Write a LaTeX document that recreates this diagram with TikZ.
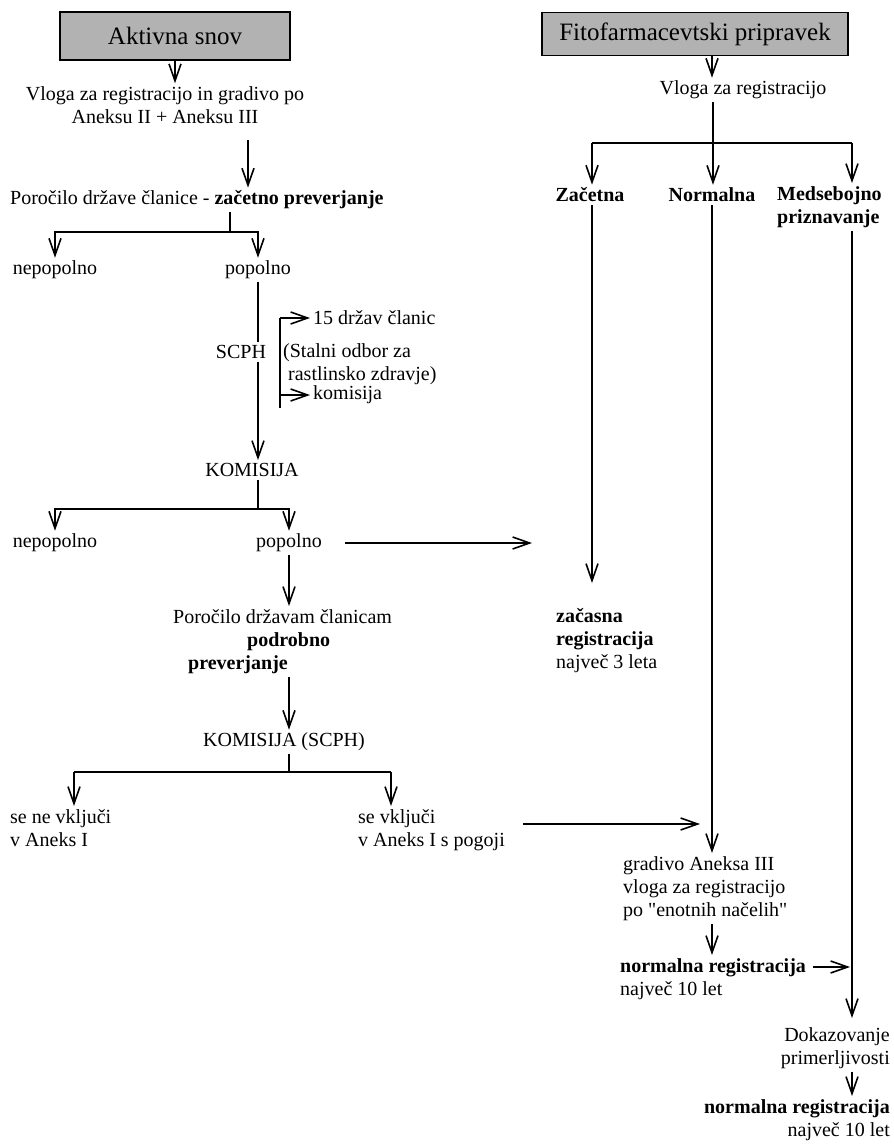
\documentclass[tikz,border=0pt]{standalone}
\usepackage{fontspec}
\setmainfont{Liberation Serif}[Ligatures=TeXOff]
\usetikzlibrary{arrows.meta}

\begin{document}
\begin{tikzpicture}[x=1pt, y=-1pt, >={Straight Barb[length=17pt,width=12pt]}, font=\fontsize{20}{23}\selectfont]

\tikzstyle{title} = [draw, line width=1.8pt, fill=gray!60, inner sep=2pt, font=\fontsize{25}{28}\selectfont]
\tikzstyle{txt} = [inner sep=3pt]
\tikzstyle{line} = [line width=1.6pt]

\useasboundingbox (0,0) rectangle (894,1146);

% --- Aktivna snov
\node[title, minimum width=230pt, minimum height=48pt] (aktivna) at (175,36) {Aktivna snov};
\node[txt, align=center] (vloga) at (165,105) {Vloga za registracijo in gradivo po\\Aneksu II + Aneksu III};
\node[txt, anchor=west] (porocilo1) at (7,200) {Poročilo države članice - \textbf{začetno preverjanje}};
\node[txt] (nepop1) at (55,270) {nepopolno};
\node[txt] (pop1) at (258,270) {popolno};
\node[txt] (scph) at (241,352) {SCPH};

\coordinate (a1) at (248,140);
\coordinate (split1) at (230,232);

\draw[->, line] (aktivna.south) -- (aktivna.south |- vloga.north);
\draw[->, line] (a1) -- (a1 |- porocilo1.north);
\draw[line] (porocilo1.south -| split1) -- (split1);
\draw[->, line] (split1) -| (nepop1.north);
\draw[->, line] (split1) -| (pop1.north);

% --- SCPH
\node[txt, anchor=west] (clanic) at (310,318) {15 držav članic};
\node[txt, anchor=west, align=left] (odbor) at (280,364) {(Stalni odbor za\\\hspace*{5pt}rastlinsko zdravje)};
\node[txt, anchor=west] (komis) at (310,395) {komisija};

\coordinate (br_top) at (280,318);
\coordinate (br_bot) at (280,408);

\draw[line] (br_top) -- (br_bot);
\draw[->, line] (br_top) -- (clanic.west);
\draw[->, line] (br_top |- komis) -- (komis.west);

\node[txt] (komisija1) at (252,470) {KOMISIJA};
\draw[line] (pop1.south) -- (pop1.south |- scph.north);
\draw[->, line] (pop1.south |- scph.south) -- (pop1.south |- komisija1.north);

% --- KOMISIJA
\node[txt] (nepop2) at (55,543) {nepopolno};
\node[txt] (pop2) at (289,543) {popolno};
\node[txt, anchor=north west, align=left] (porocilo2) at (170,606) {Poročilo državam članicam\\\hspace*{74pt}\textbf{podrobno}\\\hspace*{15pt}\textbf{preverjanje}};
\node[txt] (komisija2) at (284,742) {KOMISIJA (SCPH)};

\coordinate (split2) at (258,509);
\coordinate (to_zac) at (532,543);

\draw[line] (komisija1.south -| split2) -- (split2);
\draw[->, line] (split2) -| (nepop2.north);
\draw[->, line] (split2) -| (pop2.north);
\draw[->, line, shorten <=20pt] (pop2.east) -- (to_zac);
\draw[->, line] (pop2.south) -- (pop2.south |- porocilo2.north);
\draw[->, line] (pop2.south |- porocilo2.south) -- (pop2.south |- komisija2.north);

% --- KOMISIJA (SCPH)
\node[txt, anchor=north west, align=left] (neukl) at (7,806) {se ne vključi\\v Aneks I};
\node[txt, anchor=north west, align=left] (ukl) at (355,806) {se vključi\\v Aneks I s pogoji};

\coordinate (no_in) at (74,772);
\coordinate (yes_in) at (391,772);
\coordinate (to_norm) at (700,824);

\draw[line] (komisija2.south -| pop2) -- (no_in -| pop2);
\draw[line] (no_in) -- (yes_in);
\draw[->, line] (no_in) -- (no_in |- neukl.north);
\draw[->, line] (yes_in) -- (yes_in |- ukl.north);
\draw[->, line, shorten <=15pt] (ukl.east |- to_norm) -- (to_norm);

% --- Fitofarmacevtski pripravek
\node[title, minimum width=306pt, minimum height=43pt] (fito) at (695,34) {Fitofarmacevtski pripravek};
\node[txt] (vlogaR) at (743,90) {Vloga za registracijo};
\node[txt] (zac) at (590,195) {\textbf{Začetna}};
\node[txt] (norm) at (712,195) {\textbf{Normalna}};
\node[txt, anchor=north west, align=left] (meds) at (774,183) {\textbf{Medsebojno}\\\textbf{priznavanje}};

\coordinate (split4) at (713,143);
\coordinate (br_zac) at (592,143);
\coordinate (br_med) at (852,143);

\draw[->, line] (fito.south -| norm) -- (norm |- vlogaR.north);
\draw[line] (vlogaR.south -| split4) -- (split4);
\draw[line] (br_zac) -- (br_med);
\draw[->, line] (br_zac) -- (br_zac |- zac.north);
\draw[->, line] (split4) -- (split4 |- norm.north);
\draw[->, line] (br_med) -- (br_med |- meds.north);

% --- Zacetna
\node[txt, anchor=north west, align=left] (zacasna) at (553,605) {\textbf{začasna}\\\textbf{registracija}\\največ 3 leta};
\draw[->, line, shorten >=22pt] (br_zac |- zac.south) -- (br_zac |- zacasna.north);

% --- Normalna
\node[txt, anchor=north west, align=left] (gradivo) at (620,853) {gradivo Aneksa III\\vloga za registracijo\\po "enotnih načelih"};
\node[txt, anchor=north west, align=left] (normreg1) at (617,955) {\textbf{normalna registracija}\\največ 10 let};

\coordinate (to_med) at (850,967);

\draw[->, line] (norm.south) -- (norm.south |- gradivo.north);
\draw[->, line] (gradivo.south -| norm) -- (norm |- normreg1.north);
\draw[->, line, shorten <=4pt] (normreg1.east |- to_med) -- (to_med);

% --- Medsebojno priznavanje
\node[txt, anchor=north east, align=right] (dokaz) at (893,1024) {Dokazovanje\\primerljivosti};
\node[txt, anchor=north east, align=right] (normreg2) at (893,1096) {\textbf{normalna registracija}\\največ 10 let};

\draw[->, line, shorten >=6pt] (br_med |- meds.south) -- (br_med |- dokaz.north);
\draw[->, line] (br_med |- dokaz.south) -- (br_med |- normreg2.north);

\end{tikzpicture}
\end{document}
